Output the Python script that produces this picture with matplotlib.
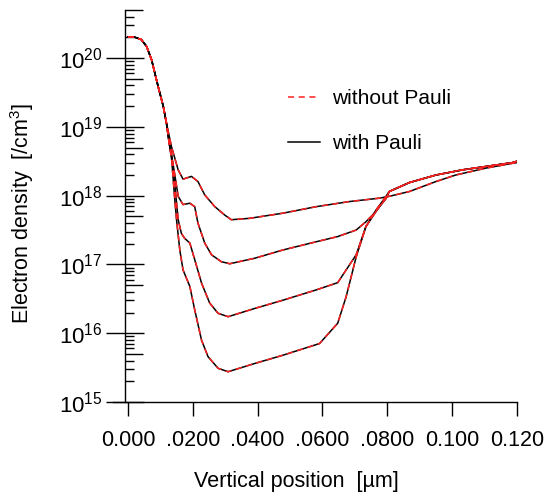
import matplotlib
matplotlib.use('Agg')
from matplotlib import pyplot as plt
from matplotlib.ticker import FixedLocator, NullFormatter

plt.rcParams['font.family'] = ['Liberation Sans', 'DejaVu Sans']
plt.rcParams['mathtext.default'] = 'regular'

# shared steep drop near the surface (x in um, log10 of density)
head_x = [0.0, 0.002, 0.0041, 0.00575, 0.0073, 0.0093, 0.0109, 0.0119]
head_y = [20.31, 20.305, 20.27, 20.17, 19.975, 19.59, 19.30, 19.05]

tail_x = [0.0806, 0.0868, 0.0950, 0.1032, 0.1186, 0.12]
tail_y = [18.06, 18.19, 18.30, 18.375, 18.48, 18.50]

c1_x = [0.01345, 0.0155, 0.0170, 0.0196, 0.0216, 0.0237, 0.0268, 0.0298,
        0.0319, 0.0375, 0.0478, 0.0581, 0.0683, 0.0775, 0.0806, 0.0868,
        0.0950, 0.1011, 0.1104, 0.1186, 0.12]
c1_y = [18.71, 18.375, 18.24, 18.28, 18.205, 18.01, 17.84, 17.72,
        17.65, 17.67, 17.745, 17.84, 17.914, 17.963, 17.99, 18.06,
        18.205, 18.30, 18.40, 18.47, 18.48]

c2_x = [0.0129, 0.0139, 0.0155, 0.0170, 0.0191, 0.0206, 0.0216, 0.0237,
        0.0258, 0.0288, 0.0314, 0.0391, 0.0478, 0.0581, 0.0647, 0.0704,
        0.0734, 0.0765, 0.0796]
c2_y = [18.71, 18.47, 17.99, 17.87, 17.89, 17.84, 17.60, 17.31,
        17.14, 17.04, 17.01, 17.09, 17.21, 17.33, 17.405, 17.50,
        17.62, 17.77, 17.96]

c3_x = [0.0126, 0.0135, 0.01446, 0.0155, 0.0165, 0.0175, 0.0191, 0.0206,
        0.0227, 0.0252, 0.0278, 0.0309, 0.0391, 0.0478, 0.0581, 0.0647,
        0.0673, 0.0704, 0.0734, 0.0775, 0.0796]
c3_y = [18.81, 18.59, 18.16, 17.65, 17.45, 17.38, 17.31, 17.07,
        16.73, 16.44, 16.29, 16.24, 16.36, 16.48, 16.63, 16.735,
        16.92, 17.14, 17.55, 17.84, 17.96]

c4_x = [0.0126, 0.0135, 0.01446, 0.0150, 0.0160, 0.0170, 0.0191, 0.0206,
        0.0227, 0.0247, 0.0278, 0.0309, 0.0391, 0.0478, 0.0591, 0.0647,
        0.0673, 0.0704, 0.0734, 0.0765, 0.0796]
c4_y = [18.81, 18.52, 17.94, 17.65, 17.21, 16.92, 16.68, 16.34,
        15.90, 15.66, 15.49, 15.44, 15.56, 15.68, 15.85, 16.145,
        16.53, 17.11, 17.55, 17.79, 17.99]

x_ticks = [0.0, 0.02, 0.04, 0.06, 0.08, 0.10, 0.12]
x_labels = ['0.000', '.0200', '.0400', '.0600', '.0800', '0.100', '0.120']
y_major = [1e15, 1e16, 1e17, 1e18, 1e19, 1e20]


def build(cx, cy, with_tail):
    xs = head_x + cx + (tail_x if with_tail else [])
    ys = head_y + cy + (tail_y if with_tail else [])
    return xs, [10.0 ** v for v in ys]


curves = [build(c1_x, c1_y, False), build(c2_x, c2_y, True),
          build(c3_x, c3_y, True), build(c4_x, c4_y, True)]

fig = plt.figure(figsize=(5.47, 4.93), dpi=100)
ax = fig.add_axes([113 / 547, 91 / 493, 404 / 547, 392 / 493])

for i, (xs, ys) in enumerate(curves):
    ax.plot(xs, ys, '-', color='black', lw=1.1,
            label='with Pauli' if i == 0 else None, zorder=2)
for i, (xs, ys) in enumerate(curves):
    ax.plot(xs, ys, '--', color='#ff2020', lw=1.1, dashes=(4, 3),
            label='without Pauli' if i == 0 else None, zorder=3)

ax.set_yscale('log')
ax.set_xlim(-0.0046, 0.12)
ax.set_ylim(1e15, 5e20)

ax.spines['top'].set_visible(False)
ax.spines['right'].set_visible(False)
ax.spines['left'].set_position(('data', -0.0009))
for s in ('left', 'bottom'):
    ax.spines[s].set_linewidth(1.0)

ax.set_xticks(x_ticks)
ax.set_xticklabels(x_labels)
ax.tick_params(axis='x', direction='out', length=10, width=1.0, pad=10.5,
               labelsize=15.5)

ax.yaxis.set_major_locator(FixedLocator(y_major))
minor = [m * 10.0 ** e for e in range(15, 21) for m in (2, 3, 4, 6, 7, 8, 9)]
ax.yaxis.set_minor_locator(FixedLocator(minor))
ax.yaxis.set_minor_formatter(NullFormatter())
ax.tick_params(axis='y', which='major', direction='inout', length=27,
               width=1.0, pad=2.5, labelsize=16)
ax.tick_params(axis='y', which='minor', direction='in', length=6.5, width=1.0)

# longer ticks at 5 x 10^n
sec = ax.secondary_yaxis((125 - 113) / 404)
sec.set_yticks([5 * 10.0 ** e for e in range(15, 21)])
sec.yaxis.set_minor_locator(FixedLocator([]))
sec.tick_params(axis='y', direction='in', length=13, width=1.0,
                labelleft=False, labelright=False)
sec.spines['left'].set_visible(False)
sec.spines['right'].set_visible(False)

ax.set_xlabel('Vertical position  [µm]', fontsize=15.5)
ax.xaxis.set_label_coords(0.454, -0.175)
ax.set_ylabel('Electron density  [/cm$^3$]', fontsize=15.5)
ax.yaxis.set_label_coords(-0.19, 0.48)

handles, labels = ax.get_legend_handles_labels()
order = [labels.index('without Pauli'), labels.index('with Pauli')]
ax.legend([handles[k] for k in order], [labels[k] for k in order],
          loc='upper left', bbox_to_anchor=(288 / 547, (493 - 89) / 493),
          bbox_transform=fig.transFigure, frameon=False, fontsize=15,
          borderpad=0, borderaxespad=0, handlelength=1.55,
          handletextpad=0.55, labelspacing=1.25)

fig.savefig('out.png', dpi=100)
